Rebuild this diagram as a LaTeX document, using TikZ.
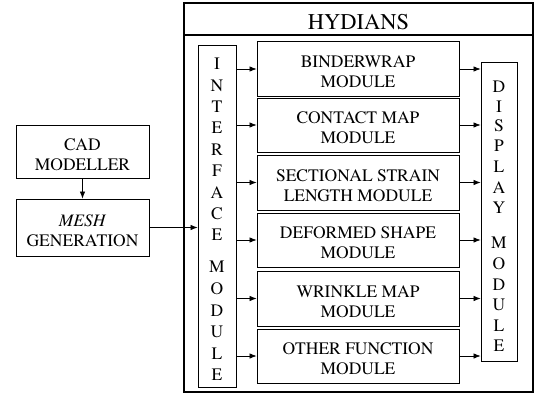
\documentclass[tikz,border=0pt]{standalone}
\usepackage{fontspec}
\setmainfont{TeX Gyre Termes}
\usetikzlibrary{arrows.meta}
\begin{document}
\begin{tikzpicture}[x=1pt,y=-1pt,
  box/.style={draw,line width=0.9pt,inner sep=0pt},
  txt/.style={inner sep=0pt,align=center,font=\fontsize{17.5}{20}\selectfont,yshift=-3pt},
  ltr/.style={inner sep=0pt,font=\fontsize{17.5}{20}\selectfont},
  arr/.style={line width=0.7pt,-{Latex[length=7pt,width=5.5pt]}}]
\useasboundingbox (0,0) rectangle (534,394);
% outer HYDIANS frame
\node[box,line width=1.1pt,minimum width=349,minimum height=389] (outer) at (358.5,197.5) {};
\node[box,line width=1.1pt,minimum width=349,minimum height=32] (title) at (358.5,19) {};
\node[txt,font=\fontsize{22.5}{24}\selectfont] (titletext) at (title.center) {HYDIANS};
% left boxes
\node[box,minimum width=133,minimum height=53] (cad) at (82.5,151.5) {};
\node[txt] (cadtext) at (cad.center) {CAD\\MODELLER};
\node[box,minimum width=133,minimum height=57] (mesh) at (82.5,227.5) {};
\node[txt] (meshtext) at (mesh.center) {\textit{MESH}\\GENERATION};
% interface and display
\node[box,minimum width=38,minimum height=342] (iface) at (217,216) {};
\node[box,minimum width=36,minimum height=299] (disp) at (499,211.5) {};
% modules
\node[box,minimum width=202,minimum height=55] (m1) at (358,69) {};
\node[box,minimum width=202,minimum height=54] (m2) at (358,125) {};
\node[box,minimum width=202,minimum height=55] (m3) at (358,182.5) {};
\node[box,minimum width=202,minimum height=54] (m4) at (358,240) {};
\node[box,minimum width=202,minimum height=55] (m5) at (358,298.5) {};
\node[box,minimum width=202,minimum height=54] (m6) at (358,356) {};
\node[txt] (t1) at (m1.center) {BINDERWRAP\\MODULE};
\node[txt] (t2) at (m2.center) {CONTACT MAP\\MODULE};
\node[txt] (t3) at (m3.center) {SECTIONAL STRAIN\\LENGTH MODULE};
\node[txt] (t4) at (m4.center) {DEFORMED SHAPE\\MODULE};
\node[txt] (t5) at (m5.center) {WRINKLE MAP\\MODULE};
\node[txt] (t6) at (m6.center) {OTHER FUNCTION\\MODULE};
% vertical letters
\foreach \l/\yy [count=\i] in {I/64,N/86,T/107,E/128,R/150,F/171,A/193,C/214,E/235,M/267,O/289,D/310.5,U/332,L/353.5,E/375}
  \node[ltr] (if\i) at (217,\yy) {\l};
\foreach \l/\yy [count=\i] in {D/87,I/106.5,S/126,P/146,L/167,A/188,Y/208,M/243,O/264,D/285,U/305,L/325.5,E/346}
  \node[ltr] (dp\i) at (499,\yy) {\l};
% connectors
\draw[arr] (cad.south) -- (mesh.north);
\draw[arr] (mesh.east) -- (iface.west |- mesh.east);
\foreach \m in {m1,m2,m3,m4,m5,m6}{
  \draw[arr] (iface.east |- \m.west) -- (\m.west);
  \draw[arr] (\m.east) -- (disp.west |- \m.east);
}
\end{tikzpicture}
\end{document}
